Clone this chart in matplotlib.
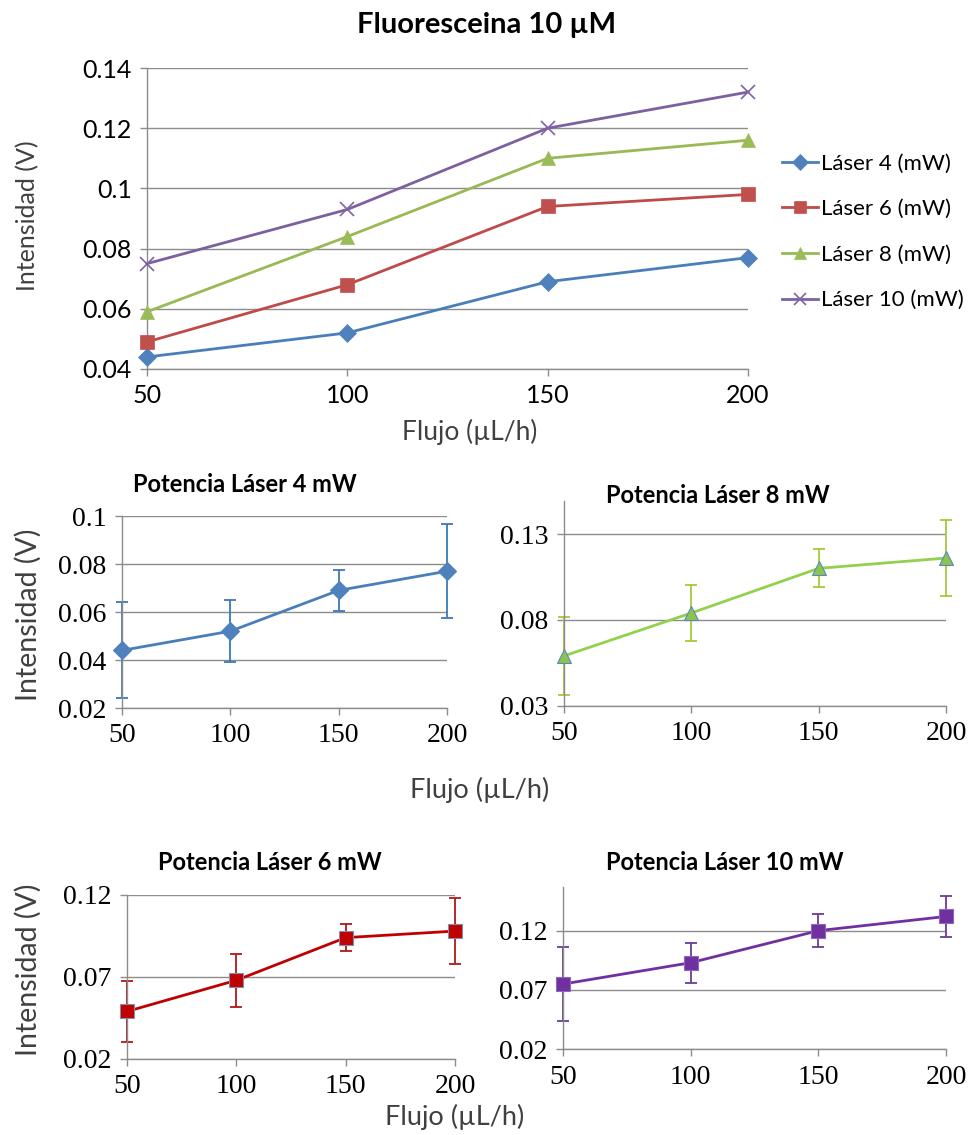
import matplotlib
matplotlib.use("Agg")
import matplotlib.pyplot as plt

# Flow rates (uL/h) and mean fluorescence intensity (V) per laser power
flujo = [50, 100, 150, 200]
laser_4 = [0.044, 0.052, 0.069, 0.077]
laser_6 = [0.049, 0.068, 0.094, 0.098]
laser_8 = [0.059, 0.084, 0.110, 0.116]
laser_10 = [0.075, 0.093, 0.120, 0.132]

# Standard deviations used for the error bars
err_4 = [0.020, 0.013, 0.0085, 0.0195]
err_6 = [0.0185, 0.016, 0.0083, 0.020]
err_8 = [0.0225, 0.0165, 0.011, 0.022]
err_10 = [0.031, 0.017, 0.014, 0.017]

legend_labels = ["Láser 4 (mW)", "Láser 6 (mW)", "Láser 8 (mW)", "Láser 10 (mW)"]

W, H = 973, 1135
SANS = ["Lato", "DejaVu Sans"]
SERIF = ["Liberation Serif", "DejaVu Serif"]
GRID = "#8c8c8c"

fig = plt.figure(figsize=(W / 100, H / 100), dpi=100)


def make_axes(x0, x1, y_top, y_bot, ylim, yticks, tick_family, tick_size):
    ax = fig.add_axes([x0 / W, 1 - y_bot / H, (x1 - x0) / W, (y_bot - y_top) / H])
    ax.set_xlim(50, 200)
    ax.set_ylim(*ylim)
    ax.set_xticks(flujo)
    ax.set_yticks(yticks)
    for s in ("top", "right"):
        ax.spines[s].set_visible(False)
    for s in ("left", "bottom"):
        ax.spines[s].set_color(GRID)
        ax.spines[s].set_linewidth(1.0)
    ax.grid(axis="y", color=GRID, linewidth=1.0)
    ax.set_axisbelow(True)
    ax.tick_params(axis="both", direction="out", length=5, width=1.0, color=GRID,
                   labelsize=tick_size, pad=6)
    for lab in ax.get_xticklabels() + ax.get_yticklabels():
        lab.set_family(tick_family)
    ax.set_facecolor("none")
    return ax


def fmt(v):
    return f"{v:g}"


# ---- Main chart: all laser powers ----
ax = make_axes(147, 748, 68, 369, (0.04, 0.14), [0.04, 0.06, 0.08, 0.1, 0.12, 0.14],
               SANS, 18)
ax.set_yticklabels([fmt(v) for v in ax.get_yticks()], family=SANS)
series = [
    (laser_4, "#4A7EBB", "#4F81BD", "D", 9),
    (laser_6, "#BE4B48", "#C0504D", "s", 10),
    (laser_8, "#98B954", "#9BBB59", "^", 10),
    (laser_10, "#7D60A0", "#8064A2", "x", 10),
]
handles = []
for (vals, lc, mc, mk, ms), lab in zip(series, legend_labels):
    ln, = ax.plot(flujo, vals, color=lc, lw=2.0, marker=mk, ms=ms, mfc=mc, mec=mc,
                  mew=1.2 if mk == "x" else 0.5, clip_on=False, zorder=3, label=lab)
    handles.append(ln)
ax.legend(handles=handles, loc="center left", bbox_to_anchor=(771 / W, 1 - 232 / H),
          bbox_transform=fig.transFigure, frameon=False, prop={"family": SANS, "size": 16},
          handlelength=1.6, handletextpad=0.15, labelspacing=1.15, borderpad=0,
          markerscale=0.85)
fig.text(487 / W, 1 - 25 / H, "Fluoresceina 10 µM", ha="center", va="center",
         family=SANS, fontsize=21, fontweight="bold")
fig.text(28 / W, 1 - 216 / H, "Intensidad (V)", rotation=90, ha="center", va="center",
         family=SANS, fontsize=18, color="#404040")
fig.text(470 / W, 1 - 432 / H, "Flujo (µL/h)", ha="center", va="center",
         family=SANS, fontsize=19, color="#404040")


def small_chart(x0, x1, y_top, y_bot, ylim, yticks, vals, errs, lc, ecol, mk, mfc, mec, ms,
                title, tx, ty):
    a = make_axes(x0, x1, y_top, y_bot, ylim, yticks, SERIF, 20)
    a.set_yticklabels([fmt(v) for v in yticks], family=SERIF)
    a.errorbar(flujo, vals, yerr=errs, fmt="none", ecolor=ecol, elinewidth=1.3,
               capsize=4, capthick=1.3, clip_on=False, zorder=2)
    a.plot(flujo, vals, color=lc, lw=2.0, marker=mk, ms=ms, mfc=mfc, mec=mec, mew=0.8,
           clip_on=False, zorder=3)
    fig.text(tx / W, 1 - ty / H, title, ha="center", va="center", family=SANS,
             fontsize=17, fontweight="bold")
    return a


small_chart(122, 447, 516, 708, (0.02, 0.1), [0.02, 0.04, 0.06, 0.08, 0.1],
            laser_4, err_4, "#4A7EBB", "#3A78B8", "D", "#4F81BD", "#4F81BD", 9,
            "Potencia Láser 4 mW", 245, 484)
small_chart(564, 946, 501.4, 705.7, (0.03, 0.149), [0.03, 0.08, 0.13],
            laser_8, err_8, "#92D050", "#A4C83C", "^", "#8CC450", "#5B86C0", 10,
            "Potencia Láser 8 mW", 718, 495)
small_chart(127, 455, 895, 1059, (0.02, 0.12), [0.02, 0.07, 0.12],
            laser_6, err_6, "#C00000", "#B01818", "s", "#C00000", "#7F8FB0", 10,
            "Potencia Láser 6 mW", 270, 862)
small_chart(563, 946, 886.8, 1049.3, (0.02, 0.157), [0.02, 0.07, 0.12],
            laser_10, err_10, "#7030A0", "#6A3A98", "s", "#7030A0", "#8A6AB8", 10,
            "Potencia Láser 10 mW", 725, 862)

fig.text(28 / W, 1 - 615 / H, "Intensidad (V)", rotation=90, ha="center", va="center",
         family=SANS, fontsize=20.5, color="#404040")
fig.text(28 / W, 1 - 970 / H, "Intensidad (V)", rotation=90, ha="center", va="center",
         family=SANS, fontsize=20.5, color="#404040")
fig.text(480 / W, 1 - 790 / H, "Flujo (µL/h)", ha="center", va="center",
         family=SANS, fontsize=19.5, color="#404040")
fig.text(455 / W, 1 - 1117 / H, "Flujo (µL/h)", ha="center", va="center",
         family=SANS, fontsize=19.5, color="#404040")

fig.savefig("out.png", dpi=100, facecolor="white")
